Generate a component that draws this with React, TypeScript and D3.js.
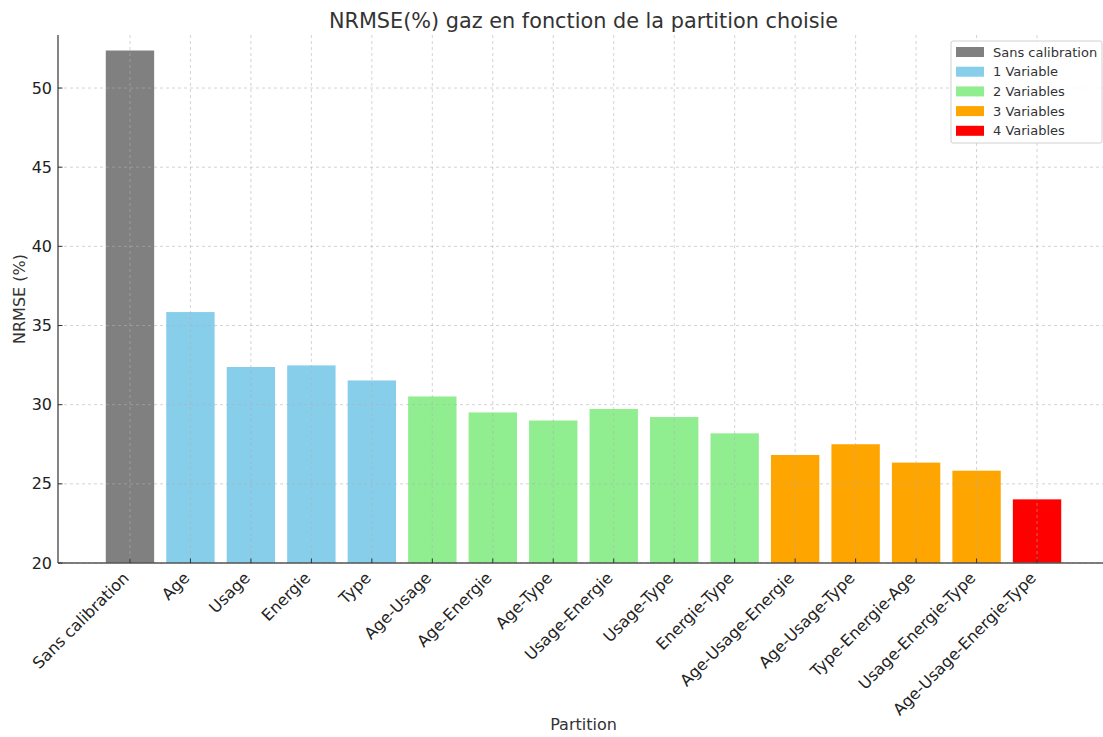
import React from "react";
import * as d3 from "d3";

const categories = [
  "Sans calibration", "Age", "Usage", "Energie", "Type",
  "Age-Usage", "Age-Energie", "Age-Type", "Usage-Energie", "Usage-Type", "Energie-Type",
  "Age-Usage-Energie", "Age-Usage-Type", "Type-Energie-Age", "Usage-Energie-Type",
  "Age-Usage-Energie-Type",
];
const values = [
  52.37, 35.85, 32.38, 32.48, 31.53,
  30.52, 29.51, 29.0, 29.73, 29.22, 28.19,
  26.82, 27.5, 26.34, 25.83,
  24.02,
];
const groups = [0, 1, 1, 1, 1, 2, 2, 2, 2, 2, 2, 3, 3, 3, 3, 4];
const groupLabels = ["Sans calibration", "1 Variable", "2 Variables", "3 Variables", "4 Variables"];
const groupColors = ["#808080", "#87CEEB", "#90EE90", "#FFA500", "#FF0000"];
const yTicks = [20, 25, 30, 35, 40, 45, 50];

const W = 1103, H = 737;
const left = 58, right = 1109, top = 35, bottom = 563;

export default function App() {
  const x = d3.scaleLinear().domain([-1.19, 16.19]).range([left, right]);
  const y = d3.scaleLinear().domain([20, 53.35]).range([bottom, top]);
  const bw = x(0.8) - x(0);
  const font = "'DejaVu Sans', sans-serif";
  return (
    <svg width={W} height={H} style={{ position: "absolute", left: 0, top: 0 }} fontFamily={font}>
      <rect width={W} height={H} fill="#fff" />
      {values.map((v, i) => (
        <rect key={i} x={x(i) - bw / 2} y={y(v)} width={bw} height={y(20) - y(v)}
          fill={groupColors[groups[i]]} />
      ))}
      {/* grid */}
      {categories.map((c, i) => (
        <line key={"gx" + i} x1={x(i)} x2={x(i)} y1={top} y2={bottom}
          stroke="#b0b0b0" strokeOpacity={0.7} strokeDasharray="3,3" strokeWidth={0.8} />
      ))}
      {yTicks.map((t) => (
        <line key={"gy" + t} x1={left} x2={W} y1={y(t)} y2={y(t)}
          stroke="#b0b0b0" strokeOpacity={0.7} strokeDasharray="3,3" strokeWidth={0.8} />
      ))}
      {/* spines */}
      <line x1={left} x2={left} y1={top} y2={bottom} stroke="#333" strokeWidth={1.2} />
      <line x1={left} x2={W} y1={bottom} y2={bottom} stroke="#555" strokeWidth={1.5} />
      {/* y ticks */}
      {yTicks.map((t) => (
        <g key={"yt" + t}>
          <line x1={left} x2={left + 4.5} y1={y(t)} y2={y(t)} stroke="#333" strokeWidth={1} />
          <text x={left - 6} y={y(t)} dy="0.35em" textAnchor="end" fontSize={16} fill="#222">{t}</text>
        </g>
      ))}
      {/* x ticks */}
      {categories.map((c, i) => (
        <g key={"xt" + i}>
          <line x1={x(i)} x2={x(i)} y1={bottom} y2={bottom - 4.5} stroke="#333" strokeWidth={1} />
          <text transform={`translate(${x(i)},${bottom + 16}) rotate(-45)`} textAnchor="end"
            fontSize={16} fill="#222">{c}</text>
        </g>
      ))}
      <text x={(left + right) / 2} y={28} textAnchor="middle" fontSize={20.8} fill="#333">
        NRMSE(%) gaz en fonction de la partition choisie
      </text>
      <text x={(left + right) / 2} y={730} textAnchor="middle" fontSize={16} fill="#333">Partition</text>
      <text transform={`translate(25,${(top + bottom) / 2}) rotate(-90)`} textAnchor="middle"
        fontSize={16} fill="#333">NRMSE (%)</text>
      {/* legend */}
      <g>
        <rect x={951} y={41} width={151} height={102} rx={2} fill="#fff" fillOpacity={0.85}
          stroke="#d0d0d0" strokeWidth={1} />
        {groupLabels.map((g, i) => (
          <g key={"lg" + i} transform={`translate(956,${52 + i * 19.7})`}>
            <rect x={0} y={-5} width={28} height={10} fill={groupColors[i]} />
            <text x={37} y={0} dy="0.35em" fontSize={13} fill="#333">{g}</text>
          </g>
        ))}
      </g>
    </svg>
  );
}
